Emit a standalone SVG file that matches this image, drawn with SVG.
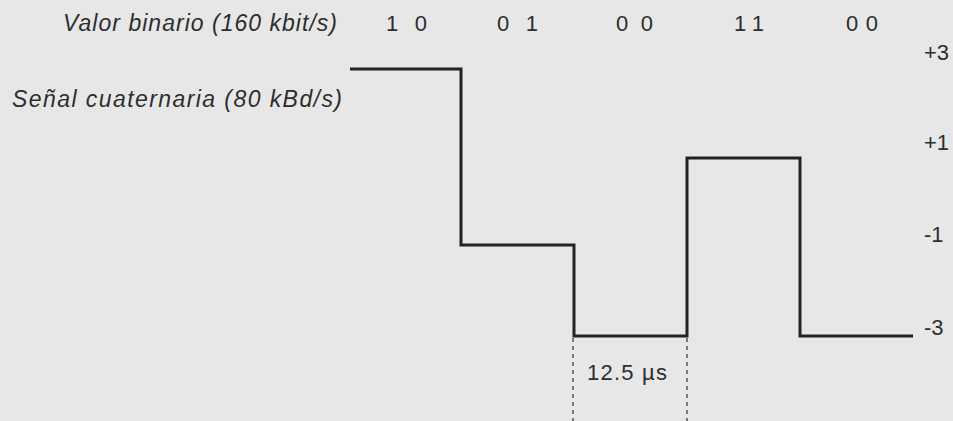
<svg xmlns="http://www.w3.org/2000/svg" width="953" height="421" viewBox="0 0 953 421">
<style>
text{font-family:"Liberation Sans",Arial,sans-serif;font-size:22px;fill:#2e2e2e}
.it{font-style:italic;font-size:23px}
.wave{fill:none;stroke:#222;stroke-width:3;stroke-linejoin:miter}
.dash{fill:none;stroke:#333;stroke-width:1.2;stroke-dasharray:4 4}
</style>
<rect width="953" height="421" fill="#e7e7e7"/>
<g id="labels">
<text class="it" x="63" y="31" textLength="274" lengthAdjust="spacing">Valor binario (160 kbit/s)</text>
<text class="it" x="12" y="107" textLength="330" lengthAdjust="spacing">Señal cuaternaria (80 kBd/s)</text>
</g>
<g id="bits">
<text x="386" y="31" textLength="41" lengthAdjust="spacing">1 0</text>
<text x="497" y="31" textLength="41" lengthAdjust="spacing">0 1</text>
<text x="616" y="31" textLength="37" lengthAdjust="spacing">0 0</text>
<text x="734" y="31" textLength="30" lengthAdjust="spacing">1 1</text>
<text x="846" y="31" textLength="32" lengthAdjust="spacing">0 0</text>
</g>
<g id="levels">
<text x="924" y="60">+3</text>
<text x="924" y="150">+1</text>
<text x="924" y="242">-1</text>
<text x="924" y="335">-3</text>
</g>
<g id="connectors">
<path class="wave" d="M350 69 H461 V245 H574 V336 H687 V158 H800 V336 H913"/>
<path class="dash" d="M573 338 V421 M687 338 V421"/>
</g>
<g id="period">
<text x="587" y="380" textLength="80" lengthAdjust="spacing">12.5 µs</text>
</g>
</svg>
